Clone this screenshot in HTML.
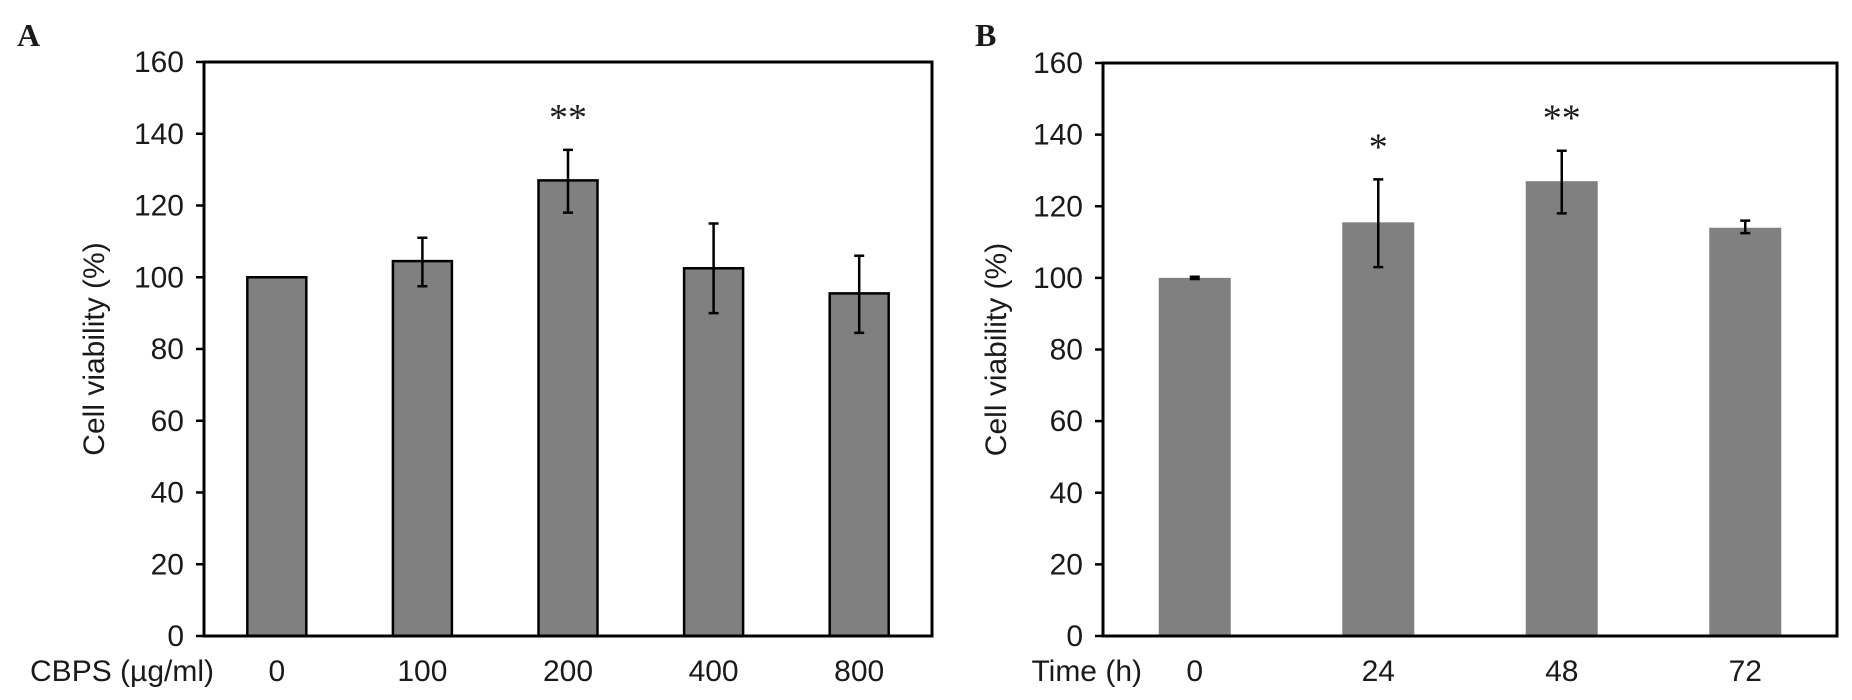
<!DOCTYPE html>
<html><head><meta charset="utf-8"><style>
html,body{margin:0;padding:0;background:#fff;width:1852px;height:700px;overflow:hidden}
svg text{font-family:"Liberation Sans",Arial,sans-serif;fill:#1a1a1a}
</style></head><body>
<svg id="chart" width="1852" height="700" xmlns="http://www.w3.org/2000/svg"></svg>
<script>
const yTicks = [0,20,40,60,80,100,120,140,160];
const catsA = ["0","100","200","400","800"];
const valsA = [100,104.5,127,102.5,95.5];
const errLoA = [100,97.5,118,90,84.5];
const errHiA = [100,111,135.5,115,106];
const starsA = ["","","**","",""];
const catsB = ["0","24","48","72"];
const valsB = [100,115.5,127,114];
const errLoB = [99.7,103,118,112.5];
const errHiB = [100.3,127.5,135.5,116];
const starsB = ["","*","**",""];

const NS="http://www.w3.org/2000/svg";
const svg=document.getElementById('chart');
function mk(tag,attrs,parent){const e=document.createElementNS(NS,tag);for(const k in attrs)e.setAttribute(k,attrs[k]);(parent||svg).appendChild(e);return e;}

function panel(cfg){
  const g=mk('g',{});
  
  
  const L=cfg.left,R=cfg.right,T=cfg.top,B=cfg.bottom;
  const y=v=>B-(v/160)*(B-T);
  const step=(R-L)/cfg.cats.length;
  const x=i=>L+step*(i+0.5);
  cfg.cats.forEach((c,i)=>{
    const b=mk('rect',{x:x(i)-cfg.bw/2,y:y(cfg.vals[i]),width:cfg.bw,height:B-y(cfg.vals[i]),fill:'#808080',stroke:cfg.stroke?'#000':'none','stroke-width':cfg.stroke?2.5:0},g);
    
    
    const lo=cfg.lo[i],hi=cfg.hi[i];
    if(hi-lo>0.1){
      const eb=mk('path',{d:`M${x(i)},${y(hi)}V${y(lo)}M${x(i)-5},${y(hi)}H${x(i)+5}M${x(i)-5},${y(lo)}H${x(i)+5}`,stroke:'#000','stroke-width':2.5,fill:'none'},g);
      
      
    }
    if(cfg.stars[i]){
      const s=mk('text',{x:x(i),y:y(hi)-20,'text-anchor':'middle','font-size':38,style:'font-family:"Liberation Serif",serif'},g);
      s.textContent=cfg.stars[i];
      
      
    }
    const t=mk('text',{x:x(i),y:681,'text-anchor':'middle','font-size':30},g);
    t.textContent=c;
    
    
  });
  const f=mk('rect',{x:L,y:T,width:R-L,height:B-T,fill:'none',stroke:'#000','stroke-width':3},g);
  
  
  yTicks.forEach(v=>{
    mk('line',{x1:L-8,x2:L,y1:y(v),y2:y(v),stroke:'#000','stroke-width':2.5},g);
    const t=mk('text',{x:L-20,y:y(v)+10,'text-anchor':'end','font-size':30},g);
    t.textContent=v;
    
    
  });
  const yl=mk('text',{x:0,y:0,'text-anchor':'middle','font-size':30,transform:`translate(${cfg.ylx},${(T+B)/2}) rotate(-90)`},g);
  yl.textContent='Cell viability (%)';
  
  
  const xl=mk('text',{x:cfg.xlx,y:681,'text-anchor':'end','font-size':30},g);
  xl.textContent=cfg.xlabel;
  
  
  const pl=mk('text',{x:cfg.plx,y:46,'font-size':32,'font-weight':'bold',style:'font-family:"Liberation Serif",serif'},g);
  pl.textContent=cfg.label;
  
  
}
panel({name:'panel-a',left:204,right:932,top:62,bottom:636,cats:catsA,vals:valsA,lo:errLoA,hi:errHiA,stars:starsA,bw:59,stroke:true,ylx:104,xlx:214,xlabel:'CBPS (µg/ml)',plx:17,label:'A'});
panel({name:'panel-b',left:1103,right:1837,top:63,bottom:636,cats:catsB,vals:valsB,lo:errLoB,hi:errHiB,stars:starsB,bw:72,stroke:false,ylx:1006,xlx:1142,xlabel:'Time (h)',plx:975,label:'B'});
</script>
</body></html>
